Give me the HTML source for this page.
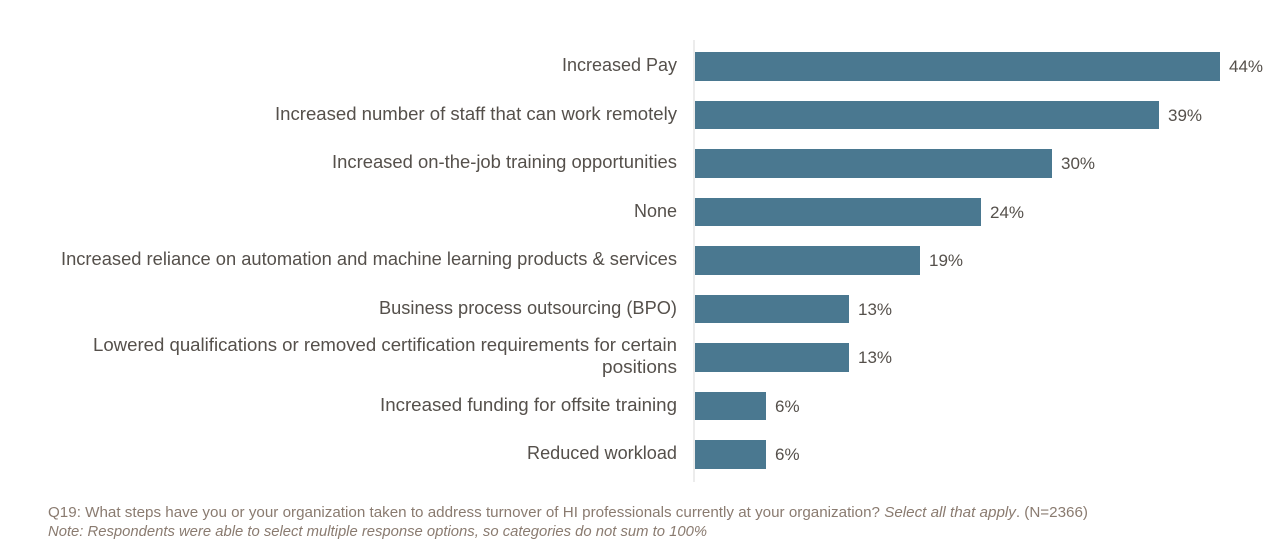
<!DOCTYPE html>
<html><head><meta charset="utf-8"><style>
html,body{margin:0;padding:0;background:#fff;}
svg{display:block;}
text{font-family:"Liberation Sans",sans-serif;}
.l{font-size:18px;fill:#55504b;text-anchor:end;}
.v{font-size:17px;fill:#55504b;}
.f{font-size:15px;fill:#8a7b70;}
</style></head><body>
<svg width="1271" height="549" viewBox="0 0 1271 549">
<line x1="694" y1="40" x2="694" y2="482" stroke="#d9d9d9" stroke-width="1"/>
<g fill="#4a7890">
<rect x="695" y="52" width="525" height="29"/>
<rect x="695" y="101" width="464" height="28"/>
<rect x="695" y="149" width="357" height="29"/>
<rect x="695" y="198" width="286" height="28"/>
<rect x="695" y="246" width="225" height="29"/>
<rect x="695" y="295" width="154" height="28"/>
<rect x="695" y="343" width="154" height="29"/>
<rect x="695" y="392" width="71" height="28"/>
<rect x="695" y="440" width="71" height="29"/>
</g>
<g lengthAdjust="spacingAndGlyphs">
<text class="l" x="677" y="71" textLength="115" lengthAdjust="spacingAndGlyphs">Increased Pay</text>
<text class="l" x="677" y="120" textLength="402" lengthAdjust="spacingAndGlyphs">Increased number of staff that can work remotely</text>
<text class="l" x="677" y="168" textLength="345" lengthAdjust="spacingAndGlyphs">Increased on-the-job training opportunities</text>
<text class="l" x="677" y="217" textLength="43" lengthAdjust="spacingAndGlyphs">None</text>
<text class="l" x="677" y="265" textLength="616" lengthAdjust="spacingAndGlyphs">Increased reliance on automation and machine learning products &amp; services</text>
<text class="l" x="677" y="314" textLength="298" lengthAdjust="spacingAndGlyphs">Business process outsourcing (BPO)</text>
<text class="l" x="677" y="351" textLength="584" lengthAdjust="spacingAndGlyphs">Lowered qualifications or removed certification requirements for certain</text>
<text class="l" x="677" y="373" textLength="75" lengthAdjust="spacingAndGlyphs">positions</text>
<text class="l" x="677" y="411" textLength="297" lengthAdjust="spacingAndGlyphs">Increased funding for offsite training</text>
<text class="l" x="677" y="459" textLength="150" lengthAdjust="spacingAndGlyphs">Reduced workload</text>
</g>
<text class="v" x="1229" y="72">44%</text>
<text class="v" x="1168" y="121">39%</text>
<text class="v" x="1061" y="169">30%</text>
<text class="v" x="990" y="218">24%</text>
<text class="v" x="929" y="266">19%</text>
<text class="v" x="858" y="315">13%</text>
<text class="v" x="858" y="363">13%</text>
<text class="v" x="775" y="412">6%</text>
<text class="v" x="775" y="460">6%</text>
<text class="f" x="48" y="517" textLength="1040" lengthAdjust="spacingAndGlyphs">Q19: What steps have you or your organization taken to address turnover of HI professionals currently at your organization? <tspan font-style="italic">Select all that apply</tspan>. (N=2366)</text>
<text class="f" x="48" y="536" font-style="italic" textLength="659" lengthAdjust="spacingAndGlyphs">Note: Respondents were able to select multiple response options, so categories do not sum to 100%</text>
</svg>
</body></html>
